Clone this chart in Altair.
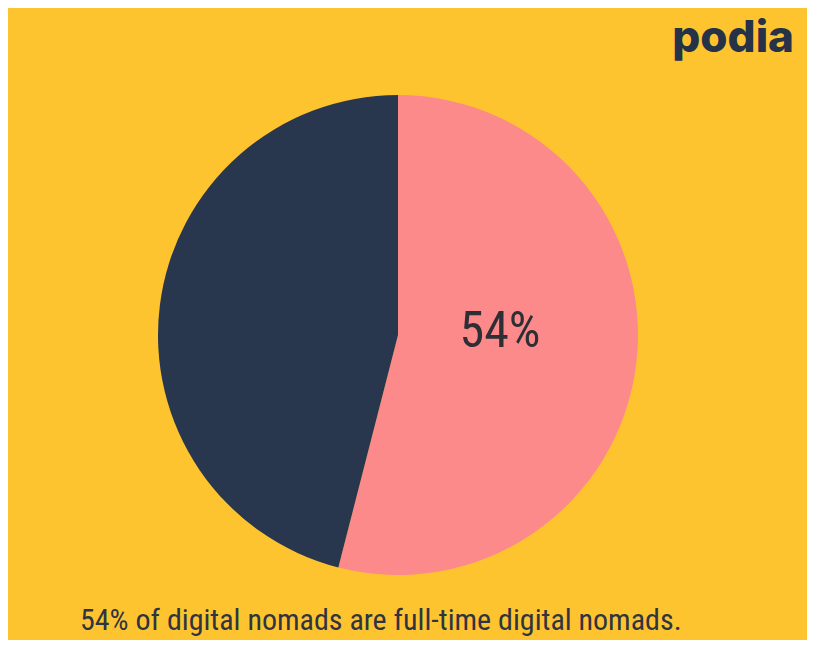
import altair as alt
import pandas as pd

categories = ["Full-time digital nomads", "Other digital nomads"]
shares = [54, 46]
colors = ["#FD8A8A", "#28364E"]
pie_label = "54%"
caption = "54% of digital nomads are full-time digital nomads."
logo = "podia"

df = pd.DataFrame({"category": categories, "share": shares, "order": [0, 1]})

W, H = 799, 632
CX, CY, R = 390, 327, 240
FONT = "Roboto Condensed, Liberation Sans Narrow, DejaVu Sans Condensed"

base = alt.Chart(df)

pie = base.mark_arc(outerRadius=R).encode(
    theta=alt.Theta("share:Q", stack=True),
    order=alt.Order("order:Q"),
    color=alt.Color("category:N", scale=alt.Scale(domain=categories, range=colors), legend=None),
    x=alt.value(CX),
    y=alt.value(CY),
)

label = alt.Chart(pd.DataFrame({"t": [pie_label]})).mark_text(
    font=FONT, fontSize=50, color="#2E2E35", align="center", baseline="middle",
).encode(text="t:N", x=alt.value(492), y=alt.value(324))

cap = alt.Chart(pd.DataFrame({"t": [caption]})).mark_text(
    font=FONT, fontSize=30, color="#2F3440", align="left", baseline="alphabetic",
).encode(text="t:N", x=alt.value(72), y=alt.value(622))

logo_t = alt.Chart(pd.DataFrame({"t": [logo]})).mark_text(
    font="Inter", fontWeight=800, fontSize=44, color="#263248",
    align="right", baseline="alphabetic",
).encode(text="t:N", x=alt.value(786), y=alt.value(44))

chart = alt.layer(pie, label, cap, logo_t).properties(
    width=W, height=H, padding=0,
    autosize=alt.AutoSizeParams(type="none"),
    background="#FEC430",
).configure_view(stroke=None)

chart.save("out.html", embed_options={"renderer": "svg", "actions": False})
